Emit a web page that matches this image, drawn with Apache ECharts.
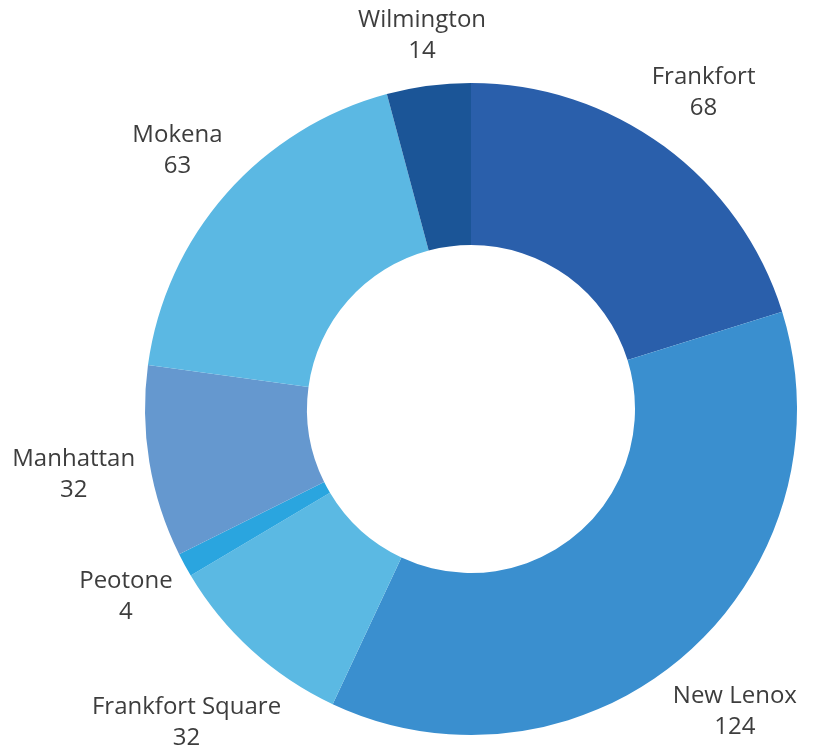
<!DOCTYPE html>
<html>
<head>
<meta charset="utf-8">
<script src="https://cdn.jsdelivr.net/npm/echarts@6/dist/echarts.min.js"></script>
<style>
html,body{margin:0;padding:0;background:#fff;}
#chart{width:813px;height:746px;}
</style>
</head>
<body>
<div id="chart"></div>
<script>
const categories = ['Frankfort', 'New Lenox', 'Frankfort Square', 'Peotone', 'Manhattan', 'Mokena', 'Wilmington'];
const values = [68, 124, 32, 4, 32, 63, 14];
const colors = ['#2a5fab', '#3a8fcf', '#5bb9e3', '#2aa5df', '#6598cf', '#5bb8e3', '#1b5597'];

const CENTER = [471, 409];
const R_INNER = 164;
const R_OUTER = 326;
const LABEL_GAP = 11;

const total = values.reduce((a, b) => a + b, 0);
const midFractions = [];
let acc = 0;
values.forEach(v => { midFractions.push((acc + v / 2) / total); acc += v; });

const chart = echarts.init(document.getElementById('chart'));
chart.setOption({
  animation: false,
  backgroundColor: '#ffffff',
  series: [{
    type: 'pie',
    center: CENTER,
    radius: [R_INNER, R_OUTER],
    startAngle: 90,
    clockwise: true,
    avoidLabelOverlap: false,
    data: categories.map((c, i) => ({ name: c, value: values[i], itemStyle: { color: colors[i] } })),
    label: {
      show: true,
      position: 'outside',
      formatter: '{b}\n{c}',
      fontFamily: 'Open Sans',
      fontWeight: 'normal',
      fontSize: 24,
      lineHeight: 31,
      color: '#3d3d3d'
    },
    labelLine: { show: false, length: 20, length2: 0 },
    labelLayout: function (params) {
      const th = midFractions[params.dataIndex] * 2 * Math.PI;
      const dx = Math.sin(th), dy = -Math.cos(th);
      const w = params.labelRect.width, h = params.labelRect.height;
      const d = R_OUTER + LABEL_GAP + Math.abs(dx) * w / 2 + Math.abs(dy) * h / 2;
      return {
        x: CENTER[0] + dx * d,
        y: CENTER[1] + dy * d,
        align: 'center',
        verticalAlign: 'middle'
      };
    }
  }]
});
</script>
</body>
</html>
